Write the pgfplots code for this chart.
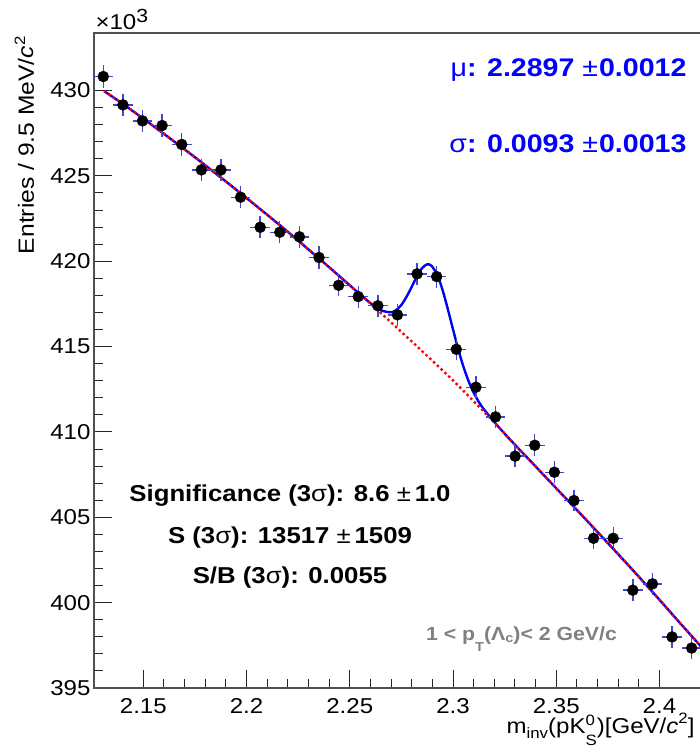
\documentclass[border=0pt]{standalone}
\usepackage{pgfplots}
\usepackage{pgfplotstable}
\pgfplotsset{compat=1.18}
\usepackage{fontspec}
\setmainfont{Liberation Sans}[FakeStretch=1.12]
\definecolor{errblue}{RGB}{70,70,200}
\definecolor{framegray}{RGB}{80,80,80}
\definecolor{txtgray}{RGB}{128,128,128}
\newcommand{\fs}[1]{\fontsize{#1}{#1}\selectfont}

\pgfplotstableread{
x y ex ey
2.1306 430.82 0.00475 0.656
2.1401 429.16 0.00475 0.655
2.1496 428.22 0.00475 0.654
2.1591 427.95 0.00475 0.654
2.1686 426.84 0.00475 0.653
2.1781 425.35 0.00475 0.652
2.1876 425.35 0.00475 0.652
2.1971 423.75 0.00475 0.651
2.2066 421.99 0.00475 0.650
2.2161 421.70 0.00475 0.649
2.2256 421.43 0.00475 0.649
2.2351 420.22 0.00475 0.648
2.2446 418.59 0.00475 0.647
2.2541 417.93 0.00475 0.646
2.2636 417.39 0.00475 0.646
2.2731 416.86 0.00475 0.646
2.2826 419.26 0.00475 0.648
2.2921 419.10 0.00475 0.647
2.3016 414.84 0.00475 0.644
2.3111 412.62 0.00475 0.642
2.3206 410.88 0.00475 0.641
2.3301 408.58 0.00475 0.639
2.3396 409.22 0.00475 0.640
2.3491 407.64 0.00475 0.638
2.3586 405.98 0.00475 0.637
2.3681 403.77 0.00475 0.635
2.3776 403.77 0.00475 0.635
2.3871 400.73 0.00475 0.633
2.3966 401.10 0.00475 0.633
2.4061 397.99 0.00475 0.631
2.4156 397.34 0.00475 0.630
}\data

\pgfplotstableread{
x y
2.1310 429.97
2.14 429.22
2.15 428.35
2.16 427.46
2.17 426.55
2.18 425.62
2.19 424.67
2.20 423.70
2.21 422.72
2.22 421.72
2.23 420.69
2.24 419.65
2.25 418.59
2.255 418.06
2.26 417.55
2.265 417.13
2.27 417.01
2.2725 417.14
2.275 417.44
2.2775 417.92
2.28 418.50
2.2825 419.11
2.285 419.59
2.2875 419.82
2.2897 419.72
2.2925 419.16
2.295 418.29
2.2975 417.19
2.30 416.01
2.3025 414.86
2.305 413.84
2.3075 412.99
2.31 412.31
2.3125 411.76
2.315 411.32
2.32 410.58
2.325 409.90
2.33 409.25
2.34 407.98
2.35 406.70
2.36 405.43
2.37 404.14
2.38 402.84
2.39 401.52
2.40 400.17
2.41 398.80
2.4211 397.30
}\total

\pgfplotstableread{
x y
2.1310 429.97
2.14 429.22
2.15 428.35
2.16 427.46
2.17 426.55
2.18 425.62
2.19 424.67
2.20 423.70
2.21 422.72
2.22 421.72
2.23 420.69
2.24 419.65
2.25 418.59
2.26 417.52
2.27 416.42
2.28 415.30
2.29 414.17
2.30 413.02
2.31 411.80
2.32 410.55
2.33 409.25
2.34 407.98
2.35 406.70
2.36 405.43
2.37 404.14
2.38 402.84
2.39 401.52
2.40 400.17
2.41 398.80
2.4211 397.30
}\bkg

\begin{document}
\begin{tikzpicture}
\begin{axis}[name=ax, scale only axis, width=609pt, height=655pt,
  xmin=2.1261, xmax=2.4211, ymin=395, ymax=433.37,
  xtick={2.15,2.2,2.25,2.3,2.35,2.4},
  xticklabels={2.15,2.2,2.25,2.3,2.35,2.4},
  ytick={395,400,405,410,415,420,425,430},
  yticklabels={395,400,405,410,415,420,425,430},
  minor x tick num=4, minor y tick num=4,
  xtick pos=bottom, ytick pos=left, tick align=inside,
  major tick length=18pt, minor tick length=9pt,
  tick style={black!85, line width=1pt},
  axis line style={framegray, line width=1.3pt},
  tick label style={font=\fs{21.5}},
  xticklabel style={yshift=-7pt},
]
\addplot[blue, line width=2.4pt, smooth] table[x=x,y=y] {\total};
\addplot[red, line width=2.4pt, dash pattern=on 2.4pt off 2.8pt, smooth] table[x=x,y=y] {\bkg};
\addplot[only marks, mark=*, mark size=5.5pt, black, mark options={fill=black},
  error bars/.cd, x dir=both, x explicit, y dir=both, y explicit,
  error mark=none, error bar style={errblue, line width=1.4pt}]
  table[x=x, y=y, x error=ex, y error=ey] {\data};
\end{axis}

\node[anchor=base east, blue, font=\fs{25.5}\bfseries] at ([xshift=596pt,yshift=611pt]ax.south west)
  {{\mdseries μ}: 2.2897 {\mdseries ±}\hspace{1pt}0.0012};
\node[anchor=base east, blue, font=\fs{25.5}\bfseries] at ([xshift=596pt,yshift=535pt]ax.south west)
  {{\mdseries σ}: 0.0093 {\mdseries ±}\hspace{1pt}0.0013};

\node[anchor=base, font=\fs{23}\bfseries] at ([xshift=196pt,yshift=186pt]ax.south west)
  {Significance (3{\mdseries σ}): 8.6 {\mdseries ±}\,1.0};
\node[anchor=base, font=\fs{23}\bfseries] at ([xshift=196pt,yshift=144pt]ax.south west)
  {S (3{\mdseries σ}): 13517 {\mdseries ±}\,1509};
\node[anchor=base, font=\fs{23}\bfseries] at ([xshift=196pt,yshift=104pt]ax.south west)
  {S/B (3{\mdseries σ}): 0.0055};

\node[anchor=base, txtgray, font=\fs{19}\bfseries] at ([xshift=427.5pt,yshift=47.3pt]ax.south west)
  {1 < p\raisebox{-11pt}{\fs{13}T}(Λ\raisebox{-2pt}{\fs{13}c})< 2 GeV/c};

\node[anchor=base east, font=\fs{21.5}] at ([xshift=604pt,yshift=-45pt]ax.south west)
  {m\raisebox{-5pt}{\fs{15}inv}(pK\makebox[0pt][l]{\raisebox{8pt}{\fs{15}0}}\raisebox{-12pt}{\fs{15}S})[GeV/\textit{c}\raisebox{10pt}{\fs{15}2}]};

\node[rotate=90, anchor=base east, font=\fs{22}] at ([xshift=-60pt,yshift=655pt]ax.south west)
  {Entries / 9.5 MeV/\textit{c}\raisebox{9pt}{\fs{15}2}};

\node[anchor=base west, font=\fs{21.5}] at ([xshift=-2pt,yshift=658pt]ax.south west)
  {×10\raisebox{7pt}{\fs{19}3}};

\pgfresetboundingbox
\path ([xshift=-94pt,yshift=-65pt]ax.south west) rectangle ++(700pt,753pt);
\end{tikzpicture}
\end{document}
